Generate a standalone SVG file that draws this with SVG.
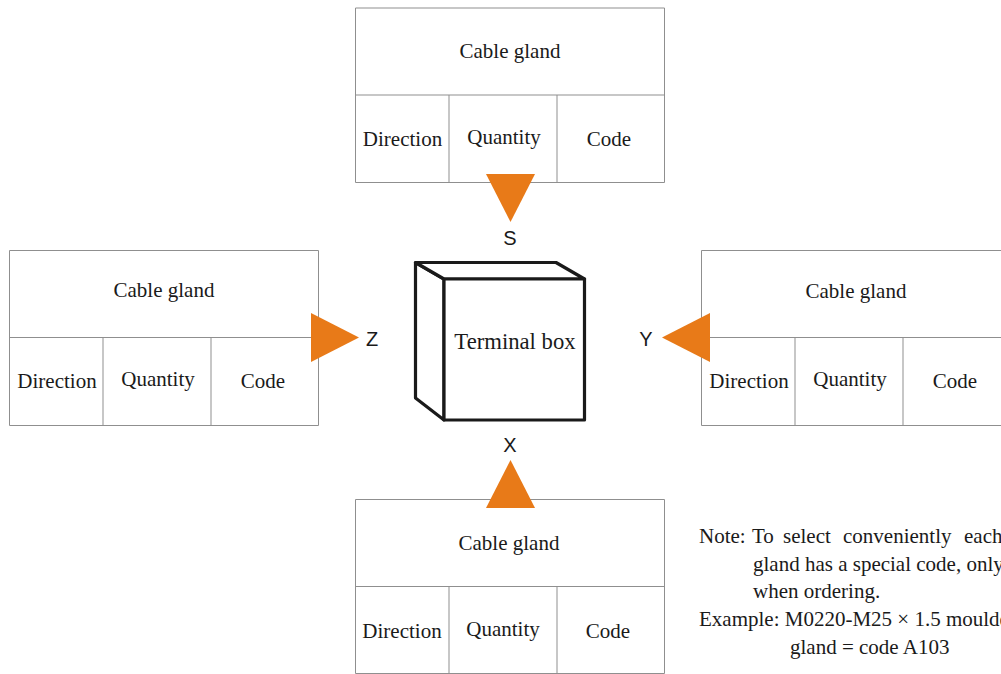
<svg xmlns="http://www.w3.org/2000/svg" width="1001" height="674" viewBox="0 0 1001 674">
<style>
.l{fill:none;stroke:#8f8f8f;stroke-width:1}
.t{font-family:"Liberation Serif",serif;font-size:21px;fill:#1a1a1a;text-anchor:middle}
.tb{font-family:"Liberation Serif",serif;font-size:22.700px;fill:#1a1a1a;text-anchor:middle}
.n{font-family:"Liberation Serif",serif;font-size:21px;fill:#1a1a1a}
.a{font-family:"Liberation Sans",sans-serif;font-size:20px;fill:#1a1a1a;text-anchor:middle}
.h{fill:#e87a18}
.b{fill:#fff;stroke:#1a1a1a;stroke-width:3.200;stroke-linejoin:round}
</style>
<rect width="1001" height="674" fill="#fff"/>
<g id="table-s"><path class="l" d="M355.500 8H664.500V182.500H355.500ZM355.500 95H664.500M449 95V182.500M557 95V182.500"/>
<text class="t" x="510" y="58">Cable gland</text><text class="t" x="402.500" y="146">Direction</text><text class="t" x="504" y="144">Quantity</text><text class="t" x="609" y="146">Code</text></g>
<g id="table-z"><path class="l" d="M9.500 250.500H318.500V425.500H9.500ZM9.500 337.500H318.500M103 337.500V425.500M211 337.500V425.500"/>
<text class="t" x="164" y="297">Cable gland</text><text class="t" x="57" y="388">Direction</text><text class="t" x="158" y="386">Quantity</text><text class="t" x="263" y="388">Code</text></g>
<g id="table-y"><path class="l" d="M1001 250.500H701.500V425.500H1001M701.500 337.500H1001M795 337.500V425.500M903 337.500V425.500"/>
<text class="t" x="856" y="298">Cable gland</text><text class="t" x="749" y="388">Direction</text><text class="t" x="850" y="386">Quantity</text><text class="t" x="955" y="388">Code</text></g>
<g id="table-x"><path class="l" d="M355.500 499.500H664.500V673.500H355.500ZM355.500 586.500H664.500M449 586.500V673.500M557 586.500V673.500"/>
<text class="t" x="509" y="550">Cable gland</text><text class="t" x="402" y="638">Direction</text><text class="t" x="503" y="636">Quantity</text><text class="t" x="608" y="638">Code</text></g>
<g id="connectors">
<polygon class="h" points="486,174 535,174 510.500,222"/>
<polygon class="h" points="311,313 311,362 359,337.500"/>
<polygon class="h" points="710,313 710,362 662,337.500"/>
<polygon class="h" points="486,508 535,508 510.500,460"/>
</g>
<g id="terminal-box">
<path class="b" d="M444 279V420L415.500 398V262.500Z"/><path class="b" d="M415.500 262.500H556L584.500 279H444Z"/><rect class="b" x="444" y="279" width="140.500" height="141"/>
<text class="tb" x="515" y="349">Terminal box</text></g>
<g id="labels"><text class="a" x="510" y="245">S</text><text class="a" x="372" y="346">Z</text><text class="a" x="646" y="346">Y</text><text class="a" x="510" y="452">X</text></g>
<g id="note">
<text class="n" x="699" y="543">Note:</text><text class="n" x="752" y="543">To</text><text class="n" x="783" y="543">select</text><text class="n" x="843" y="543">conveniently</text><text class="n" x="964" y="543">each</text>
<text class="n" x="753" y="571">gland has a special code, only</text><text class="n" x="753" y="598">when ordering.</text>
<text class="n" x="699" y="626">Example: M0220-M25 × 1.5 moulded</text><text class="n" x="790" y="654">gland = code A103</text></g>
</svg>
